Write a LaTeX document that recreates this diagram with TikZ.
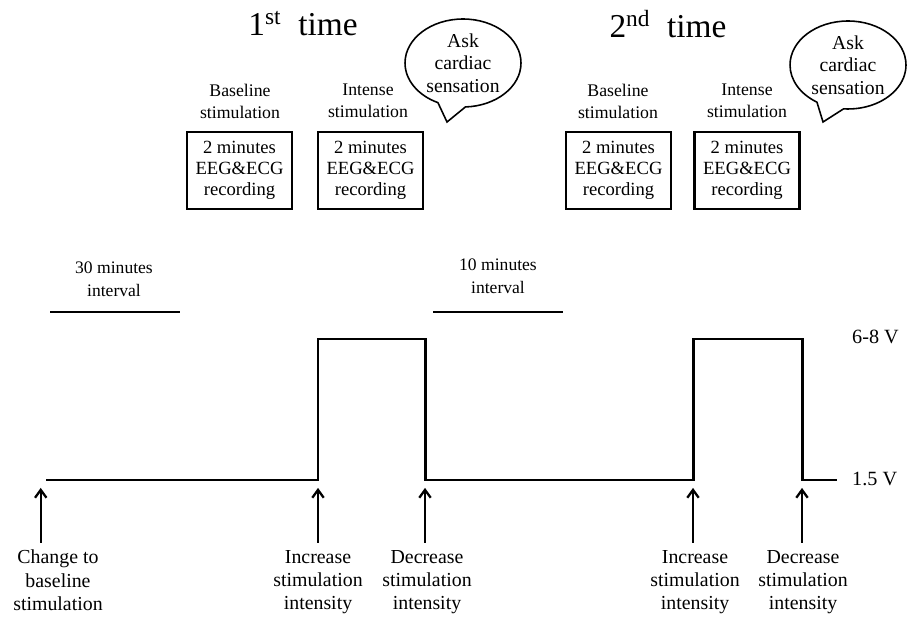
\documentclass[tikz,border=0pt]{standalone}
\usepackage{fontspec}
\setmainfont{Liberation Serif}
\usetikzlibrary{shapes.callouts,arrows.meta}

\tikzset{
  rec/.style={draw, line width=1.3pt, minimum width=2.1cm, minimum height=1.54cm,
    align=center, font=\fontsize{10.6}{12}\selectfont, inner sep=0pt},
  stim/.style={align=center, font=\fontsize{10.1}{12.5}\selectfont},
  evt/.style={align=center, anchor=north, inner sep=1pt, font=\fontsize{11.3}{13.3}\selectfont},
  ask/.style={ellipse callout, draw, line width=0.9pt, align=center, inner sep=0pt,
    minimum width=2.32cm, minimum height=1.76cm, callout pointer arc=28,
    font=\fontsize{11.2}{12.8}\selectfont},
  wave/.style={line width=1.7pt},
  volt/.style={anchor=west, font=\fontsize{11.5}{13}\selectfont},
  evarrow/.style={-{Straight Barb[length=4.5pt, width=6.5pt]}, line width=1.3pt,
    shorten <=3pt, shorten >=4.5pt}
}

\begin{document}
\begin{tikzpicture}[x=0.02cm, y=-0.02cm]
    \useasboundingbox (0,0) rectangle (915,621);
    % titles
    \node (t1) at (303,24) {\fontsize{19}{22}\selectfont 1\textsuperscript{st}\ \ time};
    \node (t2) at (668,24) {\fontsize{19}{22}\selectfont 2\textsuperscript{nd}\ \ time};
    % speech bubbles
    \node[ask, callout absolute pointer={(447,122)}] (ask1) at (463,63) {Ask\\cardiac\\sensation};
    \node[ask, callout absolute pointer={(823,122)}] (ask2) at (848,65) {Ask\\cardiac\\sensation};
    % stimulation labels and recording boxes
    \node[stim] (b1) at (240,101) {Baseline\\stimulation};
    \node[stim] (i1) at (368,101) {Intense\\stimulation};
    \node[stim] (b2) at (618,101) {Baseline\\stimulation};
    \node[stim] (i2) at (747,101) {Intense\\stimulation};
    \node[rec] (r1) at (239.5,170.5) {2 minutes\\EEG\&ECG\\recording};
    \node[rec] (r2) at (370.5,170.5) {2 minutes\\EEG\&ECG\\recording};
    \node[rec] (r3) at (618.5,170.5) {2 minutes\\EEG\&ECG\\recording};
    \node[rec] (r4) at (747,170.5) {2 minutes\\EEG\&ECG\\recording};
    % intervals
    \node[stim, font=\fontsize{10}{13}\selectfont] (int1) at (114,279) {30 minutes\\interval};
    \node[stim, font=\fontsize{10}{13}\selectfont] (int2) at (498,276) {10 minutes\\interval};
    \draw[wave] (50,312) -- (180,312);
    \draw[wave] (433,312) -- (563,312);
    % stimulation intensity
    \draw[wave] (46,480) coordinate (s0) -- (318,480) coordinate (up1) -- (318,339) -- (425,339)
      -- (425,480) coordinate (dn1) -- (693,480) coordinate (up2) -- (693,339) -- (802,339)
      -- (802,480) coordinate (dn2) -- (837,480);
    \node[volt] (hi) at (846,337) {6-8 V};
    \node[volt] (lo) at (846,479) {1.5 V};
    % events
    \node[evt] (e0) at (58,548) {Change to\\baseline\\stimulation};
    \node[evt] (e1) at (318,548) {Increase\\stimulation\\intensity};
    \node[evt] (e2) at (427,548) {Decrease\\stimulation\\intensity};
    \node[evt] (e3) at (695,548) {Increase\\stimulation\\intensity};
    \node[evt] (e4) at (803,548) {Decrease\\stimulation\\intensity};
    \draw[evarrow] ([xshift=-3]e0.north -| s0) -- ([xshift=-3]s0);
    \draw[evarrow] (e1.north -| up1) -- (up1);
    \draw[evarrow] (e2.north -| dn1) -- (dn1);
    \draw[evarrow] (e3.north -| up2) -- (up2);
    \draw[evarrow] (e4.north -| dn2) -- (dn2);
  \end{tikzpicture}
\end{document}
